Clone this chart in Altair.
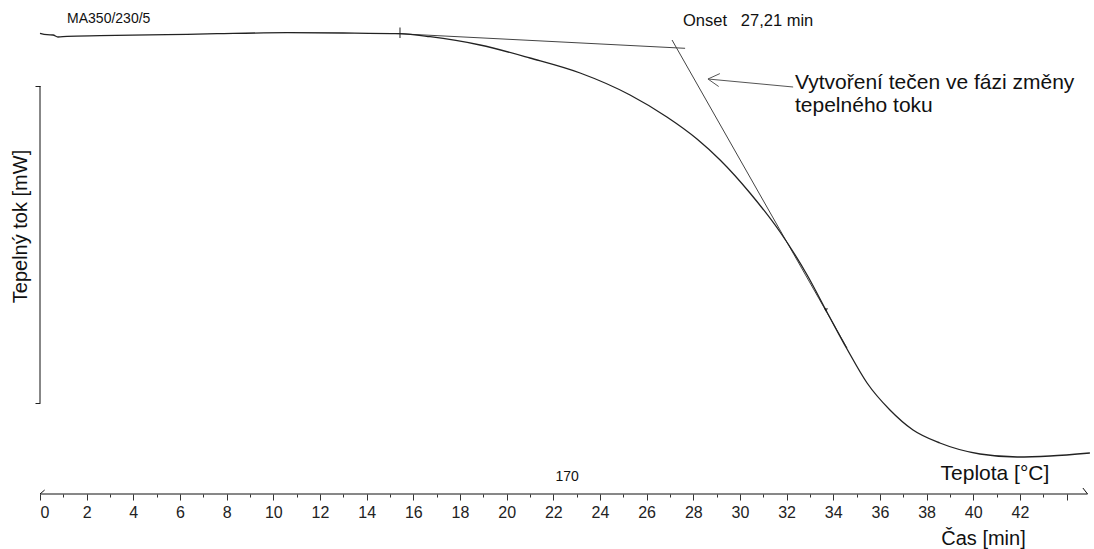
import altair as alt
import pandas as pd

# DSC curve: time [min] vs heat flow [mW, arbitrary offset]
time_min = [0.0, 0.30, 0.56, 0.77, 1.16, 2.57, 5.44, 7.59, 10.59, 12.99, 15.43,
            16.72, 18.86, 21.00, 23.15, 25.29, 26.87, 28.16, 29.15, 30.43, 31.72,
            32.88, 33.73, 34.59, 35.45, 36.43, 37.42, 38.57, 40.29, 41.88, 43.29, 45.0]
heat_mw = [4.587, 4.573, 4.57, 4.55, 4.557, 4.563, 4.573, 4.583, 4.593, 4.59, 4.583,
           4.553, 4.47, 4.34, 4.19, 3.97, 3.75, 3.53, 3.32, 2.99, 2.60,
           2.17, 1.80, 1.43, 1.09, 0.82, 0.62, 0.49, 0.38, 0.35, 0.36, 0.39]

# tangents
tan1_t = [15.22, 27.65]
tan1_v = [4.585, 4.437]
tan2_t = [27.09, 34.59]
tan2_v = [4.52, 1.44]

# x axis ticks
tick_values = list(range(0, 45))
axis_end = 44.9

# annotation
arrow_t = [32.28, 28.63]
arrow_v = [4.05, 4.13]
head_t = [29.09, 29.14]
head_v = [4.055, 4.184]

FONT = "Liberation Sans"

xs = alt.Scale(domain=[0, 45.09], nice=False, zero=False)
ys = alt.Scale(domain=[-0.02, 4.92], nice=False, zero=False)

x_axis = alt.Axis(
    values=tick_values, tickSize=6, tickColor="#333", tickWidth=1,
    tickDash={"condition": {"test": "datum.value % 2 === 1", "value": [3, 10]}, "value": [6, 0]},
    labelExpr="datum.value % 2 === 0 && datum.value <= 42 ? datum.label : ''",
    labelFont=FONT, labelFontSize=16, labelColor="#222", labelPadding=4,
    domain=False, grid=False,
    title="Čas [min]", titleFont=FONT, titleFontSize=20, titleFontWeight="normal",
    titleColor="#111", titleX=943, titleY=44, titleAlign="center", titleBaseline="middle")
y_axis = alt.Axis(
    values=[0.89, 4.06], labels=False, domain=False, grid=False, tickSize=5,
    tickColor="#222",
    title="Tepelný tok [mW]", titleFont=FONT, titleFontSize=20, titleFontWeight="normal",
    titleColor="#111", titleX=-20, titleY=226, titleAngle=270,
    titleAlign="center", titleBaseline="middle")

X = lambda: alt.X("t:Q", scale=xs, axis=x_axis)
Y = lambda: alt.Y("v:Q", scale=ys, axis=y_axis)

curve_df = pd.DataFrame({"t": time_min, "v": heat_mw})
curve = alt.Chart(curve_df).mark_line(color="#222", strokeWidth=1.3, interpolate="monotone").encode(
    x=X(), y=Y())

tan_df = pd.DataFrame({
    "t": tan1_t + tan2_t,
    "v": tan1_v + tan2_v,
    "g": ["a", "a", "b", "b"],
})
tangents = alt.Chart(tan_df).mark_line(color="#444", strokeWidth=1).encode(
    x=X(), y=Y(), detail="g:N")

# axis lines
axes_df = pd.DataFrame({
    "t": [0, 0, 0, 44.7],
    "t2": [axis_end, 0, 0.2, axis_end],
    "v": [-0.02, 0.89, -0.02, 0.04],
    "v2": [-0.02, 4.06, 0.02, -0.02],
})
axis_lines = alt.Chart(axes_df).mark_rule(color="#111", strokeWidth=1).encode(
    x=X(), x2="t2:Q", y=Y(), y2="v2:Q")

# arrow
arr_df = pd.DataFrame({
    "t": [arrow_t[0], arrow_t[1], arrow_t[1]],
    "t2": [arrow_t[1], head_t[0], head_t[1]],
    "v": [arrow_v[0], arrow_v[1], arrow_v[1]],
    "v2": [arrow_v[1], head_v[0], head_v[1]],
})
arrow = alt.Chart(arr_df).mark_rule(color="#555", strokeWidth=1).encode(
    x=X(), x2="t2:Q", y=Y(), y2="v2:Q")

# markers on curve
mk_df = pd.DataFrame({"t": [15.43], "v": [4.645], "v2": [4.54]})
marker1 = alt.Chart(mk_df).mark_rule(color="#222", strokeWidth=1).encode(
    x=X(), y=Y(), y2="v2:Q")
mk2_df = pd.DataFrame({"t": [33.69], "v": [1.82]})
marker2 = alt.Chart(mk2_df).mark_point(shape="triangle-down", filled=True, size=18, color="#111").encode(
    x=X(), y=Y())

# texts
NB = "\u00a0"
txt_df = pd.DataFrame({
    "t": [1.16, 27.56, 32.36, 32.36, 22.59, 40.93],
    "v": [4.73, 4.71, 4.09, 3.86, 0.15, 0.18],
    "label": ["MA350/230/5", "Onset" + NB * 3 + "27,21 min", "Vytvoření tečen ve fázi změny",
              "tepelného toku", "170", "Teplota [°C]"],
    "size": [14, 16.5, 21, 21, 14, 21],
})

def text_layer(sub, align):
    return alt.Chart(sub).mark_text(align=align, baseline="middle", font=FONT, color="#111").encode(
        x=X(), y=Y(),
        text="label:N",
        size=alt.Size("size:Q", scale=None, legend=None),
    )

t_left = text_layer(txt_df.iloc[[0, 1, 2, 3]], "left")
t_center = text_layer(txt_df.iloc[[4, 5]], "center")

chart = alt.layer(
    axis_lines, tangents, curve, marker1, marker2, arrow, t_left, t_center
).properties(
    width=1052, height=494,
    autosize=alt.AutoSizeParams(type="none"),
    padding={"left": 40, "right": 2, "top": 0, "bottom": 55},
    background="white",
).configure_view(stroke=None)

chart.save("out.html", embed_options={"renderer": "svg", "actions": False})
